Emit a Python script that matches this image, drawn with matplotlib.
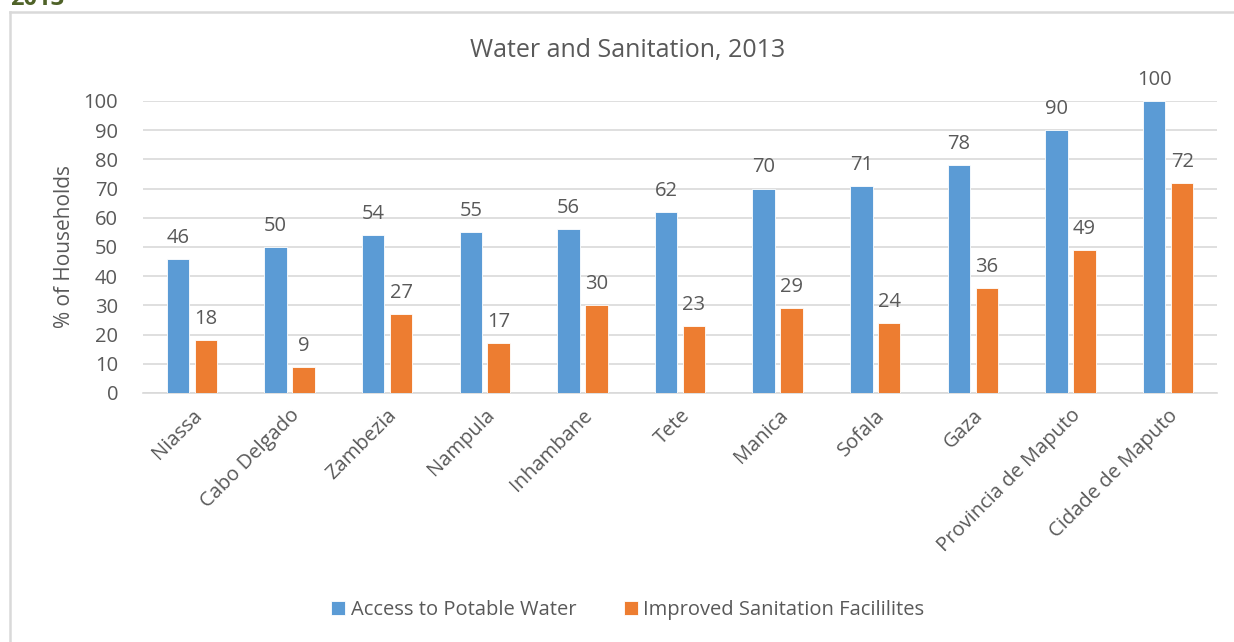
import matplotlib
matplotlib.use("Agg")
import matplotlib.pyplot as plt
import numpy as np
from matplotlib.lines import Line2D

provinces = ["Niassa", "Cabo Delgado", "Zambezia", "Nampula", "Inhambane", "Tete",
             "Manica", "Sofala", "Gaza", "Provincia de Maputo", "Cidade de Maputo"]
water = [46, 50, 54, 55, 56, 62, 70, 71, 78, 90, 100]
sanitation = [18, 9, 27, 17, 30, 23, 29, 24, 36, 49, 72]
yticks = list(range(0, 101, 10))

BLUE = "#5b9bd5"
ORANGE = "#ed7d31"
TEXT = "#595959"
GRID = "#d9d9d9"
FS = 14.5

plt.rcParams["font.family"] = ["Open Sans", "DejaVu Sans"]

W, H = 1234, 642
fig = plt.figure(figsize=(W / 100, H / 100), dpi=100)
ax = fig.add_axes([143 / W, (H - 393) / H, (1217 - 143) / W, (393 - 101) / H])

x = np.arange(len(provinces))
bw = 0.23
off = 0.143
b1 = ax.bar(x - off, water, bw, color=BLUE, edgecolor="white", linewidth=0.6,
            label="Access to Potable Water", zorder=3)
b2 = ax.bar(x + off, sanitation, bw, color=ORANGE, edgecolor="white", linewidth=0.6,
            label="Improved Sanitation Facililites", zorder=3)

for bars, vals in ((b1, water), (b2, sanitation)):
    for r, v in zip(bars, vals):
        ax.annotate(f"{v}", (r.get_x() + r.get_width() / 2, v), xytext=(0, 8),
                    textcoords="offset points", ha="center", va="bottom",
                    fontsize=FS, color=TEXT, annotation_clip=False)

ax.set_xlim(-0.5, len(provinces) - 0.5)
ax.set_ylim(0, 100)
ax.set_yticks(yticks)
ax.set_yticklabels([str(t) for t in yticks], fontsize=FS, color=TEXT)
ax.set_xticks(x)
ax.set_xticklabels(provinces, rotation=45, ha="right", rotation_mode="anchor",
                   fontsize=FS, color=TEXT)
ax.tick_params(axis="both", length=0)
ax.tick_params(axis="y", pad=18)
ax.tick_params(axis="x", pad=9)
ax.grid(axis="y", color=GRID, linewidth=1.2, zorder=0)
for s in ["top", "right", "left"]:
    ax.spines[s].set_visible(False)
ax.spines["bottom"].set_color(GRID)
ax.spines["bottom"].set_linewidth(1.2)

ax.set_ylabel("% of Households", fontsize=15, color=TEXT)
ax.yaxis.set_label_coords(-(143 - 75) / 1074, 0.5)

fig.text(628 / W, 1 - 50 / H, "Water and Sanitation, 2013", ha="center", va="center",
         fontsize=18, color=TEXT)

leg = fig.legend(handles=[b1, b2], loc="center", bbox_to_anchor=(628 / W, 1 - 610 / H),
                 ncol=2, frameon=False, fontsize=FS, handlelength=0.7, handleheight=0.7,
                 handletextpad=0.25, columnspacing=2.4)
for t in leg.get_texts():
    t.set_color(TEXT)

# chart frame edges
fig.add_artist(Line2D([10 / W, 10 / W], [0, 1 - 12 / H], transform=fig.transFigure,
                      color=GRID, linewidth=1.8))
fig.add_artist(Line2D([10 / W, 1], [1 - 12 / H, 1 - 12 / H], transform=fig.transFigure,
                      color=GRID, linewidth=1.8))

# section heading above the chart
fig.text(10 / W, 1 - 5 / H, "2013", ha="left", va="baseline", fontsize=17,
         fontweight="bold", color="#4f6228")

fig.savefig("out.png", dpi=100, facecolor="white")
